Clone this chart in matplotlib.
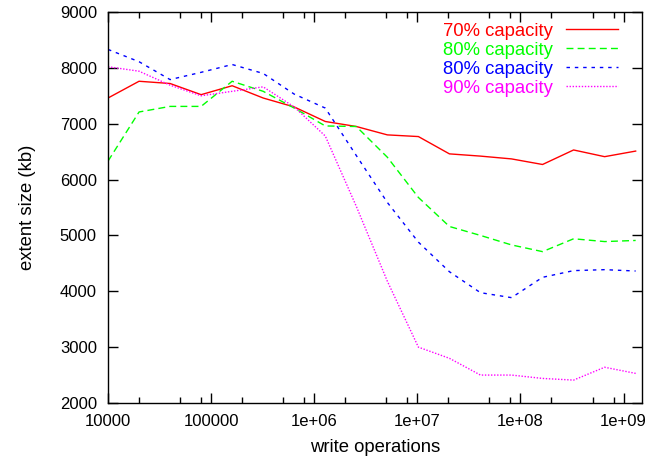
import matplotlib
matplotlib.use("Agg")
import matplotlib.pyplot as plt
from matplotlib.ticker import FixedLocator, LogLocator, NullFormatter

plt.rcParams["font.family"] = ["Liberation Sans", "DejaVu Sans"]
plt.rcParams["font.size"] = 12

# write operations: 10000 doubling up to ~1.3e9
ops = [10000 * 2 ** i for i in range(18)]

cap70 = [7460, 7760, 7720, 7520, 7680, 7460, 7300, 7040, 6950, 6800,
         6770, 6460, 6420, 6370, 6270, 6530, 6410, 6510]
cap80a = [6330, 7210, 7310, 7310, 7760, 7580, 7280, 6960, 6950, 6400,
          5680, 5160, 5000, 4830, 4710, 4940, 4890, 4910]
cap80b = [8330, 8110, 7790, 7920, 8060, 7900, 7530, 7280, 6430, 5590,
          4880, 4350, 3975, 3886, 4250, 4370, 4387, 4363]
cap90 = [8020, 7940, 7690, 7500, 7580, 7660, 7300, 6780, 5520, 4180,
         3000, 2800, 2500, 2500, 2440, 2410, 2640, 2530]

labels = ["70% capacity", "80% capacity", "80% capacity", "90% capacity"]
x_ticks = [1e4, 1e5, 1e6, 1e7, 1e8, 1e9]
x_ticklabels = ["10000", "100000", "1e+06", "1e+07", "1e+08", "1e+09"]

fig = plt.figure(figsize=(6.64, 4.61), dpi=100)
ax = fig.add_axes([108 / 664, 1 - 403 / 461, (641.7 - 108) / 664, (403 - 12) / 461])

ax.plot(ops, cap70, color="#ff0000", lw=1.0, ls="-", label=labels[0])
ax.plot(ops, cap80a, color="#00ff00", lw=1.0, ls=(0, (5, 3)), label=labels[1])
ax.plot(ops, cap80b, color="#0000ff", lw=1.0, ls=(0, (2.5, 3.5)), label=labels[2])
ax.plot(ops, cap90, color="#ff00ff", lw=1.0, ls=(0, (1, 1.2)), label=labels[3])

ax.set_xscale("log")
ax.set_xlim(1e4, 1.5e9)
ax.set_ylim(2000, 9000)
ax.xaxis.set_major_locator(FixedLocator(x_ticks))
ax.set_xticklabels(x_ticklabels)
ax.xaxis.set_minor_locator(LogLocator(base=10, subs=[2, 5, 8]))
ax.xaxis.set_minor_formatter(NullFormatter())
ax.set_yticks(range(2000, 9001, 1000))

ax.tick_params(which="both", direction="in", top=True, right=True, width=1.0)
ax.tick_params(which="major", length=7, pad=8)
ax.tick_params(which="minor", length=4)
for s in ax.spines.values():
    s.set_linewidth(1.0)

ax.set_xlabel("write operations", fontsize=13.3, labelpad=7)
ax.set_ylabel("extent size (kb)", fontsize=13.3, labelpad=17)

leg = ax.legend(loc="upper right", bbox_to_anchor=(618 / 664, 1 - 22.5 / 461),
                bbox_transform=fig.transFigure, frameon=False, markerfirst=False,
                labelcolor="linecolor", fontsize=13.3, handlelength=2.8,
                handletextpad=0.7, labelspacing=0.11, borderpad=0, borderaxespad=0)

fig.savefig("out.png", dpi=100)
